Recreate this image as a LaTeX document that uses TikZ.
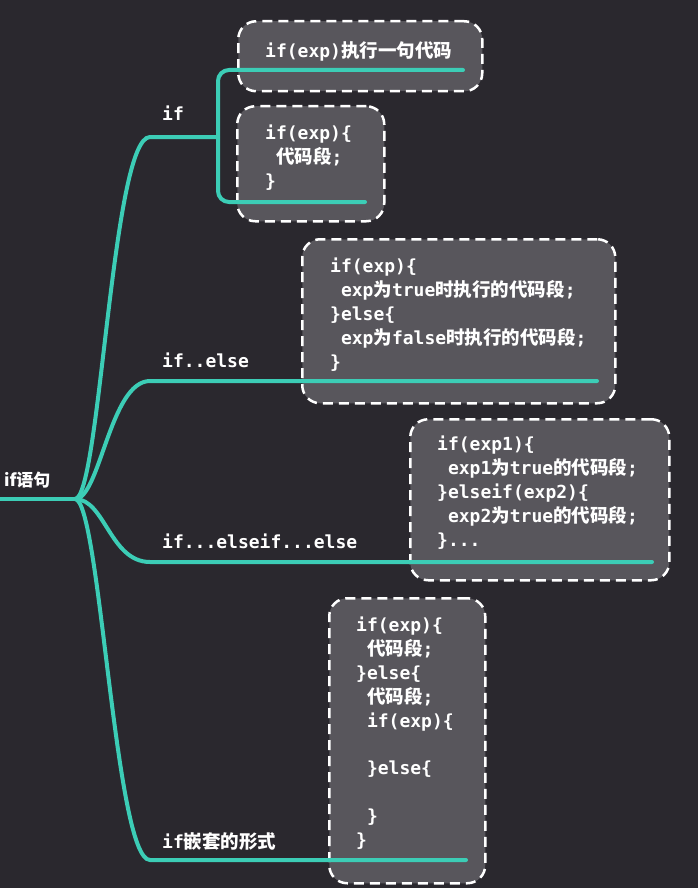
\documentclass[tikz,border=0pt]{standalone}
\usepackage{fontspec}
\setmonofont{DejaVu Sans Mono}
\newfontfamily\cjkfont{Noto Sans CJK SC}
\newcommand\zh[1]{{\cjkfont\bfseries\fontsize{18.5pt}{23.8pt}\selectfont #1}}
\newcommand\ind{\hspace*{10.8pt}}
\definecolor{bgdark}{HTML}{2A282E}
\definecolor{boxgray}{HTML}{58565C}
\definecolor{teal1}{HTML}{3CCDB6}
\tikzset{
  branch/.style={draw=teal1, line width=4pt, line cap=round},
  codebox/.style={draw=white, fill=boxgray, dash pattern=on 10pt off 6pt,
    rounded corners=18pt, line width=2.5pt, inner sep=0pt, anchor=north west},
  code/.style={text=white, font=\ttfamily\bfseries\fontsize{18pt}{23.8pt}\selectfont,
    align=left, anchor=north west, inner sep=0pt},
  lab/.style={text=white, font=\ttfamily\bfseries\fontsize{18pt}{20pt}\selectfont,
    anchor=base west, inner sep=0pt},
  rootlab/.style={text=white, font=\cjkfont\bfseries\fontsize{17pt}{20pt}\selectfont,
    anchor=base west, inner sep=0pt},
}
\begin{document}
\begin{tikzpicture}[x=1pt,y=-1pt]
\useasboundingbox (0,0) rectangle (698,888);
\fill[bgdark] (0,0) rectangle (698,888);

% boxes
\node[codebox, minimum width=244pt, minimum height=70pt] (b1) at (237,20) {};
\node[codebox, minimum width=147pt, minimum height=115pt] (b2) at (236,105) {};
\node[codebox, minimum width=313pt, minimum height=164pt] (b3) at (301,238) {};
\node[codebox, minimum width=259pt, minimum height=161pt] (b4) at (409,418) {};
\node[codebox, minimum width=156pt, minimum height=285pt] (b5) at (328,597) {};

% coordinates
\coordinate (r0) at (0,499);
\coordinate (j) at (75,499);
\coordinate (k1) at (150,137);
\coordinate (k1e) at (218,137);
\coordinate (k2) at (150,381);
\coordinate (k3) at (150,562);
\coordinate (k4) at (150,860);
\coordinate (u1s) at (218,70);
\coordinate (u1) at (463,70);
\coordinate (u2s) at (218,202);
\coordinate (u2) at (365,202);
\coordinate (u3) at (597,381);
\coordinate (u4) at (652,562);
\coordinate (u5) at (466,860);

% connectors
\draw[branch] (r0) -- (j);
\draw[branch] (j) .. controls (100,499) and (112,137) .. (k1) -- (k1e);
\draw[branch, rounded corners=11pt] (u1) -- (u1s) -- (u2s) -- (u2);
\draw[branch] (j) .. controls (100,499) and (110,381) .. (k2) -- (u3);
\draw[branch] (j) .. controls (105,499) and (110,562) .. (k3) -- (u4);
\draw[branch] (j) .. controls (100,499) and (115,860) .. (k4) -- (u5);

% labels
\node[rootlab] (root) at (4,486) {if语句};
\node[lab] (l1) at (162,121) {if};
\node[lab] (l2) at (162,367) {if..else};
\node[lab] (l3) at (162,548) {if...elseif...else};
\node[lab] (l4) at (162,848) {if\zh{嵌套的形式}};

% code texts
\node[code] (t1) at (265,41) {if(exp)\zh{执行一句代码}};
\node[code] (t2) at (265,125) {if(exp)\{\\\ind\zh{代码段};\\\}};
\node[code] (t3) at (330,258) {if(exp)\{\\\ind exp\zh{为}true\zh{时执行的代码段};\\\}else\{\\\ind exp\zh{为}false\zh{时执行的代码段};\\\}};
\node[code] (t4) at (437,436) {if(exp1)\{\\\ind exp1\zh{为}true\zh{的代码段};\\\}elseif(exp2)\{\\\ind exp2\zh{为}true\zh{的代码段};\\\}...};
\node[code] (t5) at (356,617) {if(exp)\{\\\ind\zh{代码段};\\\}else\{\\\ind\zh{代码段};\\\ind if(exp)\{\\~\\\ind\}else\{\\~\\\ind\}\\\}};
\end{tikzpicture}
\end{document}
